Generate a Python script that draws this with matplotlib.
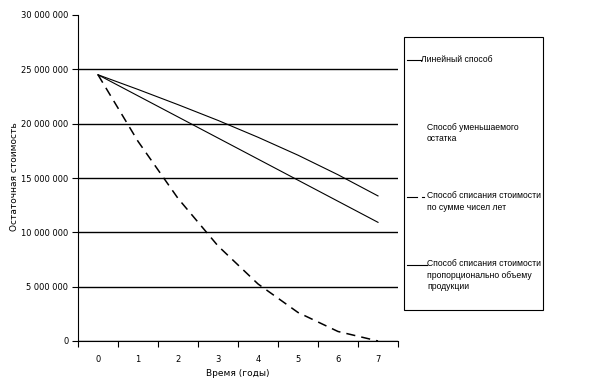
import matplotlib
matplotlib.use("Agg")
import matplotlib.pyplot as plt
from matplotlib.lines import Line2D
from matplotlib.patches import Rectangle
from matplotlib.ticker import FuncFormatter

years = [0, 1, 2, 3, 4, 5, 6, 7]
linear = [24500000, 22560000, 20620000, 18680000, 16740000, 14800000, 12860000, 10920000]
sum_years = [24500000, 18375000, 13125000, 8750000, 5250000, 2625000, 875000, 0]
production = [24500000, 23150000, 21750000, 20300000, 18750000, 17100000, 15300000, 13350000]
y_ticks = [0, 5000000, 10000000, 15000000, 20000000, 25000000, 30000000]
legend_labels = ["Линейный способ",
                 "Способ уменьшаемого\nостатка",
                 "Способ списания стоимости\nпо сумме чисел лет",
                 "Способ списания стоимости\nпропорционально объему\nпродукции"]

W, H = 613, 386
fig = plt.figure(figsize=(W / 100, H / 100), dpi=100)
ax = fig.add_axes([78 / W, 1 - 341 / H, 320 / W, 326 / H])

ax.plot(years, linear, color="black", lw=0.8)
ax.plot(years, sum_years, color="black", lw=1.1, linestyle=(0, (6, 4)))
ax.plot(years, production, color="black", lw=0.8)

ax.set_xlim(-0.5, 7.5)
ax.set_ylim(0, 30000000)
ax.set_yticks(y_ticks)
ax.yaxis.set_major_formatter(FuncFormatter(lambda v, p: f"{int(v):,}".replace(",", " ")))
ax.set_xticks(years)
ax.set_xticks([i - 0.5 for i in range(9)], minor=True)
ax.tick_params(axis="x", which="major", length=0, pad=10, labelsize=6)
ax.tick_params(axis="x", which="minor", length=4, width=0.8, direction="out")
ax.tick_params(axis="y", length=4, width=0.8, direction="out", labelsize=6, pad=3)
ax.grid(axis="y", color="black", lw=1.0)
ax.set_axisbelow(True)
gl = ax.yaxis.get_gridlines()
gl[-1].set_visible(False)
for s in ["top", "right"]:
    ax.spines[s].set_visible(False)
for s in ["left", "bottom"]:
    ax.spines[s].set_linewidth(0.8)

ax.set_xlabel("Время (годы)", fontsize=6.5, labelpad=4)
fig.text(15 / W, 1 - 177 / H, "Остаточная стоимость", rotation=90, fontsize=6.5,
         ha="center", va="center")

# legend box
fig.add_artist(Rectangle((404 / W, 1 - 310 / H), 139 / W, 273 / H, transform=fig.transFigure,
                         fill=False, edgecolor="black", lw=0.8))
leg_fam = ["Liberation Sans Narrow", "Liberation Sans", "DejaVu Sans"]
entries = [
    (60, 421, (407, 421), "-"),
    (128, 427, None, None),
    (197, 427, (407, 417), "--"),
    (265, 427, (407, 427), "-"),
]
for (ty, tx, seg, ls), lab in zip(entries, legend_labels):
    fig.text(tx / W, 1 - (ty - 5.5) / H, lab, fontsize=6.2, family=leg_fam, ha="left", va="top",
             linespacing=1.3)
    if seg is not None:
        fig.add_artist(Line2D([seg[0] / W, seg[1] / W], [1 - ty / H] * 2,
                              transform=fig.transFigure, color="black", lw=0.8))
        if ls == "--":
            fig.add_artist(Line2D([422 / W, 424 / W], [1 - ty / H] * 2,
                                  transform=fig.transFigure, color="black", lw=0.8))

fig.savefig("out.png", dpi=100)
